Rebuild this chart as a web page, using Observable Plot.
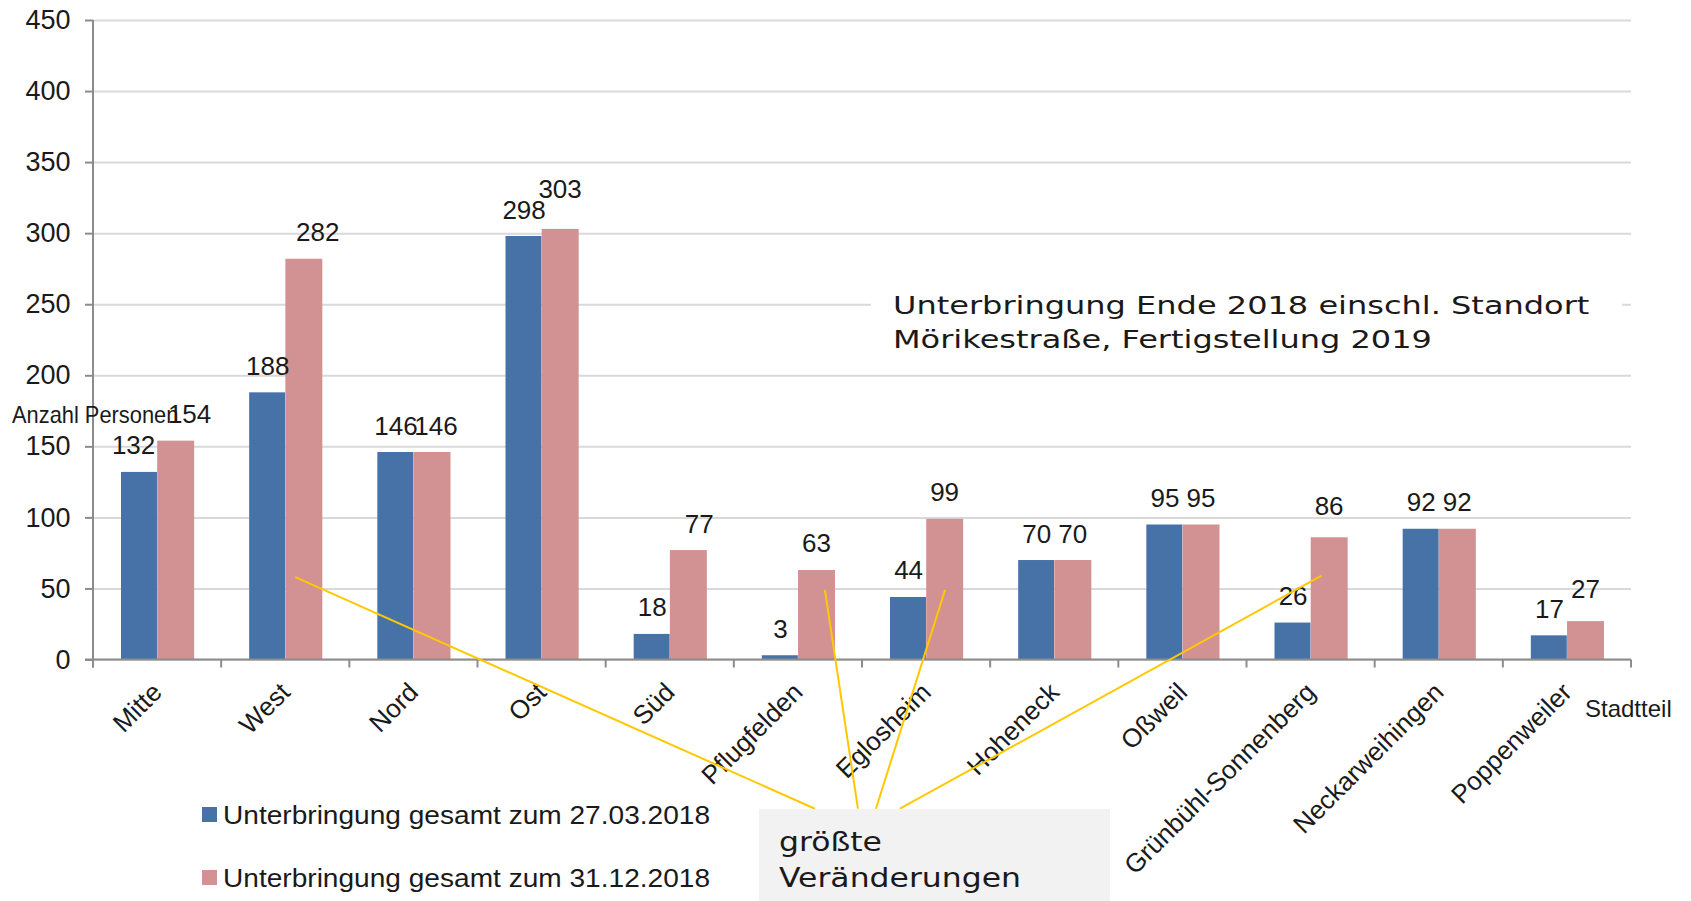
<!DOCTYPE html>
<html>
<head>
<meta charset="utf-8">
<script src="https://cdn.jsdelivr.net/npm/d3@7"></script>
<script src="https://cdn.jsdelivr.net/npm/@observablehq/plot@0.6"></script>
<style>
  html, body { margin: 0; padding: 0; background: #fff; }
  #wrap { position: relative; width: 1691px; height: 901px; overflow: hidden; font-family: "Liberation Sans", sans-serif; color: #1a1a1a; }
  #wrap svg { position: absolute; left: 0; top: 0; }
  .ov { position: absolute; white-space: nowrap; transform-origin: 0 0; }
  .leg { position: absolute; left: 202px; font-size: 26px; line-height: 26px; white-space: nowrap; }
  .leg i { position: absolute; left: 0; top: 5px; width: 15px; height: 15px; }
  .leg span { position: absolute; left: 21px; top: 0; transform: scaleX(1.08); transform-origin: 0 0; }
  #note { position: absolute; left: 871px; top: 287px; width: 751px; height: 72px; background: #fff; }
  #note div { position: absolute; left: 22px; font-family: "DejaVu Sans", sans-serif; font-size: 25px; line-height: 25px; white-space: nowrap; transform: scaleX(1.28); transform-origin: 0 0; }
  #box { position: absolute; left: 759px; top: 809px; width: 351px; height: 100px; background: #f2f2f2; }
  #box div { position: absolute; left: 20px; font-family: "DejaVu Sans", sans-serif; font-size: 26px; line-height: 26px; white-space: nowrap; transform: scaleX(1.21); transform-origin: 0 0; }
</style>
</head>
<body>
<div id="wrap"></div>
<script>
// ---- data ----
const categories = ["Mitte", "West", "Nord", "Ost", "Süd", "Pflugfelden", "Eglosheim", "Hoheneck", "Oßweil", "Grünbühl-Sonnenberg", "Neckarweihingen", "Poppenweiler"];
const seriesNames = ["Unterbringung gesamt zum 27.03.2018", "Unterbringung gesamt zum 31.12.2018"];
const valuesMarch = [132, 188, 146, 298, 18, 3, 44, 70, 95, 26, 92, 17];
const valuesDecember = [154, 282, 146, 303, 77, 63, 99, 70, 95, 86, 92, 27];
const yTicks = [0, 50, 100, 150, 200, 250, 300, 350, 400, 450];
const seriesColors = ["#4672a8", "#d29192"];
const yLabel = "Anzahl Personen";
const xLabel = "Stadtteil";
const noteLines = ["Unterbringung Ende 2018 einschl. Standort", "Mörikestraße, Fertigstellung 2019"];
const boxLines = ["größte", "Veränderungen"];
// annotation connectors: source district and value on its bar
const linkFrom = ["West", "Pflugfelden", "Eglosheim", "Grünbühl-Sonnenberg"];
const linkFromValue = [58, 49, 49, 59];
const linkTo = "Pflugfelden";
const linkToValue = -105;

const march = categories.map((c, i) => ({cat: c, v: valuesMarch[i]}));
const december = categories.map((c, i) => ({cat: c, v: valuesDecember[i]}));

// hand-nudged data labels, as in the original chart (pixel shifts)
const labelNudgeMarch = {"Mitte": [-6, 0]};
const labelNudgeDecember = {"Mitte": [14, 0], "West": [14, 0], "Nord": [4, 0], "Ost": [0, -13], "Süd": [11, 0], "Grünbühl-Sonnenberg": [0, -5], "Poppenweiler": [0, -6]};

// Excel-like axis lines: y axis line, x baseline, ticks on category boundaries
function excelAxes(index, scales, values, dims) {
  const {x, y} = scales;
  const left = dims.marginLeft, right = dims.width - dims.marginRight;
  const y0 = y(0);
  const g = d3.create("svg:g").attr("stroke", "#8c8c8c").attr("stroke-width", 2).attr("fill", "none");
  g.append("line").attr("x1", left).attr("x2", left).attr("y1", y(yTicks[yTicks.length - 1])).attr("y2", y0 + 8);
  g.append("line").attr("x1", left - 8).attr("x2", right).attr("y1", y0).attr("y2", y0);
  const bounds = categories.map(c => x(c)).concat([right]);
  for (const b of bounds) g.append("line").attr("x1", b).attr("x2", b).attr("y1", y0).attr("y2", y0 + 8);
  return g.node();
}

function connectors(index, scales, values, dims) {
  const {x, y} = scales;
  const half = x.bandwidth ? x.bandwidth() / 2 : 0;
  const fromDx = [10, 27, 19, 11];
  const toDx = [17, 60, 78, 102];
  const g = d3.create("svg:g").attr("stroke", "#ffc800").attr("stroke-width", 2);
  linkFrom.forEach((c, i) => {
    g.append("line")
      .attr("x1", x(c) + half + fromDx[i]).attr("y1", y(linkFromValue[i]))
      .attr("x2", x(linkTo) + half + toDx[i]).attr("y2", y(linkToValue));
  });
  return g.node();
}

function labelMarks(data, baseDx, nudges) {
  const plain = Plot.text(data, {filter: d => !(d.cat in nudges), x: "cat", y: "v", text: d => String(d.v), dx: baseDx, dy: -18, lineAnchor: "bottom", fontSize: 26, fill: "#1a1a1a"});
  const nudged = Object.entries(nudges).map(([cat, [ndx, ndy]]) =>
    Plot.text(data, {filter: d => d.cat === cat, x: "cat", y: "v", text: d => String(d.v), dx: baseDx + ndx, dy: -18 + ndy, lineAnchor: "bottom", fontSize: 26, fill: "#1a1a1a"}));
  return [plain, ...nudged];
}

const chart = Plot.plot({
  width: 1691,
  height: 901,
  marginLeft: 93,
  marginRight: 60,
  marginTop: 20,
  marginBottom: 241.5,
  style: {fontFamily: "'Liberation Sans', sans-serif", color: "#1a1a1a", background: "transparent", overflow: "visible"},
  x: {type: "band", domain: categories, padding: 0, round: false, label: null},
  y: {domain: [0, 450], label: null},
  marks: [
    Plot.ruleY(yTicks, {stroke: "#d9d9d9", strokeWidth: 2}),
    Plot.barY(march, {x: "cat", y: "v", fill: seriesColors[0], insetLeft: 28, insetRight: 64.2}),
    Plot.barY(december, {x: "cat", y: "v", fill: seriesColors[1], insetLeft: 64.2, insetRight: 27}),
    excelAxes,
    Plot.axisY({ticks: yTicks, tickSize: 8, tickPadding: 15, fontSize: 27, stroke: "#8c8c8c", strokeWidth: 2, fill: "#1a1a1a", label: null}),
    Plot.axisX({tickSize: 0, tickPadding: 28, tickRotate: -45, fontSize: 26, fill: "#1a1a1a", label: null}),
    ...labelMarks(march, -18, labelNudgeMarch),
    ...labelMarks(december, 18, labelNudgeDecember),
    connectors
  ]
});

const wrap = document.getElementById("wrap");
wrap.appendChild(chart);

function addDiv(parent, cls, html, css) {
  const d = document.createElement("div");
  if (cls) d.className = cls;
  d.innerHTML = html;
  Object.assign(d.style, css || {});
  parent.appendChild(d);
  return d;
}

// axis titles
addDiv(wrap, "ov", yLabel, {left: "12px", top: "403px", fontSize: "24px", lineHeight: "24px", transform: "scaleX(0.91)"});
addDiv(wrap, "ov", xLabel, {left: "1585px", top: "697px", fontSize: "24px", lineHeight: "24px"});

// note text with white background
const note = addDiv(wrap, null, "", {});
note.id = "note";
noteLines.forEach((t, i) => addDiv(note, null, t, {top: (6 + i * 34) + "px"}));

// legend
seriesNames.forEach((name, i) => {
  const l = addDiv(wrap, "leg", "", {top: (802 + i * 63) + "px"});
  const sw = document.createElement("i");
  sw.style.background = seriesColors[i];
  l.appendChild(sw);
  const s = document.createElement("span");
  s.textContent = name;
  l.appendChild(s);
});

// grey callout box
const box = addDiv(wrap, null, "", {});
box.id = "box";
boxLines.forEach((t, i) => addDiv(box, null, t, {top: (20 + i * 36) + "px"}));
</script>
</body>
</html>
